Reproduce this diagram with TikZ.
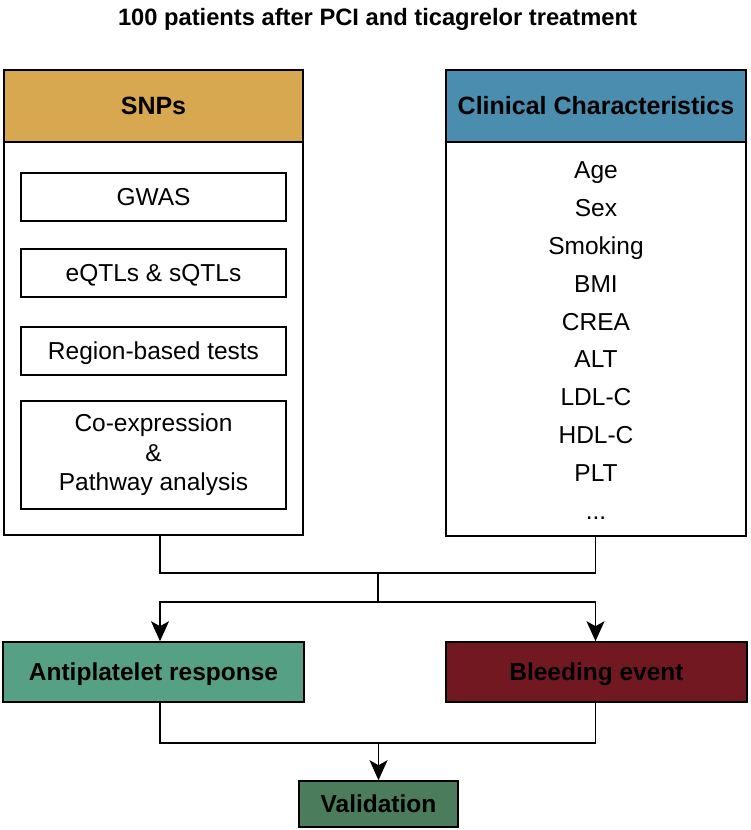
\documentclass[tikz,border=0pt]{standalone}
\usepackage{fontspec}
\setmainfont{Liberation Sans}
\usetikzlibrary{arrows.meta,calc}
\definecolor{snpgold}{HTML}{D7A84F}
\definecolor{clinblue}{HTML}{4B8DAF}
\definecolor{antigreen}{HTML}{56A085}
\definecolor{bleedred}{HTML}{721820}
\definecolor{validgreen}{HTML}{4B7D5C}
\begin{document}
\begin{tikzpicture}[x=1pt,y=-1pt,
  box/.style={draw=black, line width=1.6pt, rectangle, inner sep=0pt, anchor=center},
  hdr/.style={box, font=\fontsize{25}{30}\selectfont\bfseries, text height=17.9pt, text depth=0pt},
  innerbase/.style={box, minimum width=265pt, font=\fontsize{24.5}{29.4}\selectfont},
  innerbox/.style={innerbase, minimum height=48pt, text height=17.5pt, text depth=0pt},
  item/.style={anchor=base, inner sep=0pt, font=\fontsize{24.5}{29.4}\selectfont},
  outbox/.style={box, font=\fontsize{24.5}{29.4}\selectfont\bfseries, text height=17.5pt, text depth=0pt},
  conn/.style={line width=1.8pt},
  arr/.style={conn, -{Stealth[length=20pt,width=18pt,inset=5pt]}}
]
\useasboundingbox (0,0) rectangle (750,830);

\node[anchor=base, inner sep=0pt, font=\fontsize{23.7}{28}\selectfont\bfseries] (title) at (377.5,25) {100 patients after PCI and ticagrelor treatment};

% left panel
\node[hdr, fill=snpgold, minimum width=299pt, minimum height=72pt] (snphead) at (153.5,106) {SNPs};
\node[box, minimum width=299pt, minimum height=393pt] (snpbody) at (153.5,338.5) {};
\node[innerbox] (gwas) at (153.5,197) {GWAS};
\node[innerbox] (eqtl) at (153.5,273) {eQTLs \& sQTLs};
\node[innerbox] (region) at (153.5,351) {Region-based tests};
\node[innerbase, minimum height=108pt, align=center] (coexp) at (153.5,455) {Co-expression\\\&\\Pathway analysis};

% right panel
\node[hdr, fill=clinblue, minimum width=300pt, minimum height=72pt] (clinhead) at (596,106) {Clinical Characteristics};
\node[box, minimum width=300pt, minimum height=394pt] (clinbody) at (596,339) {};
\node[item] (age) at (596,178) {Age};
\node[item] (sex) at (596,216) {Sex};
\node[item] (smoking) at (596,254) {Smoking};
\node[item] (bmi) at (596,292) {BMI};
\node[item] (crea) at (596,330) {CREA};
\node[item] (alt) at (596,367) {ALT};
\node[item] (ldl) at (596,405) {LDL-C};
\node[item] (hdl) at (596,443) {HDL-C};
\node[item] (plt) at (596,481) {PLT};
\node[item] (dots) at (596,519) {...};

% outcome boxes
\node[outbox, fill=antigreen, minimum width=301pt, minimum height=60pt] (anti) at (153.5,672) {Antiplatelet response};
\node[outbox, fill=bleedred, minimum width=301pt, minimum height=60pt] (bleed) at (596.5,672) {Bleeding event};
\node[outbox, fill=validgreen, minimum width=159pt, minimum height=46pt] (valid) at (378.5,804) {Validation};

% connectors
\coordinate (jl) at (160,573);
\coordinate (jr) at (595.5,573);
\coordinate (jc) at (378,573);
\coordinate (jc2) at (378,602);
\coordinate (jb) at (378.5,743);
\draw[conn] (jl |- snpbody.south) -- (jl) -- (jr) -- (jr |- clinbody.south);
\draw[conn] (jc) -- (jc2);
\draw[arr] (jc2) -| (jl |- anti.north);
\draw[arr] (jc2) -| (jr |- bleed.north);
\draw[conn] (jl |- anti.south) |- (jr |- jb) -- (jr |- bleed.south);
\draw[arr] (valid.north |- jb) -- (valid.north);
\end{tikzpicture}
\end{document}
